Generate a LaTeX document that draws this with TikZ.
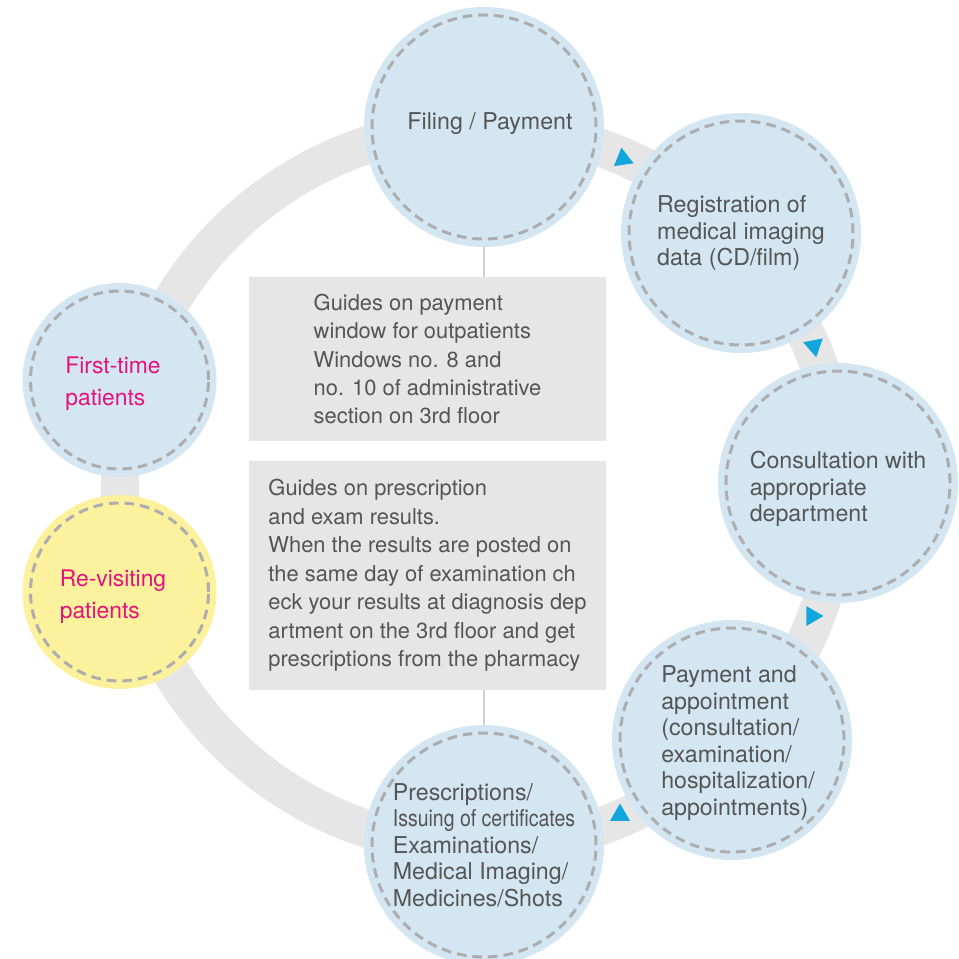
\documentclass[tikz,border=0pt]{standalone}
\usepackage{fontspec}
\setmainfont{TeX Gyre Heros}
\usetikzlibrary{shapes.geometric}

\definecolor{ringgray}{HTML}{E6E6E6}
\definecolor{boxgray}{HTML}{E6E6E6}
\definecolor{stemgray}{HTML}{D2D2D2}
\definecolor{paleblue}{HTML}{D3E6F1}
\definecolor{paleyellow}{HTML}{FCF29D}
\definecolor{dashgray}{HTML}{ADADAD}
\definecolor{txtgray}{HTML}{555555}
\definecolor{hotpink}{HTML}{E5127D}
\definecolor{tipblue}{HTML}{12A6DC}

\begin{document}
\begin{tikzpicture}[
  stage/.style={circle, fill=paleblue, minimum size=4.8cm, inner sep=0pt, align=left,
    text=txtgray, font=\fontsize{13.2}{15.1}\selectfont},
  entry/.style={stage, minimum size=3.88cm},
  caption/.style={align=left, inner sep=0pt, text=txtgray, font=\fontsize{13.2}{15.1}\selectfont},
  pinkcaption/.style={caption, text=hotpink, font=\fontsize{13}{18.2}\selectfont},
  rim/.style={draw=dashgray, line width=1.7pt, dash pattern=on 5.5pt off 3.4pt},
  guide/.style={rectangle, fill=boxgray, minimum width=7.14cm, inner sep=0pt, align=left,
    text=txtgray, font=\fontsize{12.45}{16.2}\selectfont},
  stem/.style={draw=stemgray, line width=1.1pt},
  tip/.style={regular polygon, regular polygon sides=3, fill=tipblue, minimum size=0.46cm, inner sep=0pt}
]
\useasboundingbox (0, 0) rectangle (19.16, -19.18);

\node[circle, draw=ringgray, line width=0.76cm, minimum size=14.4cm] (ring) at (9.6, -9.74) {};

\node[guide, minimum height=3.28cm] (g1) at (8.55, -7.18) {Guides on payment\\window for outpatients\\Windows no. 8 and\\no. 10 of administrative\\section on 3rd floor};
\node[guide, minimum height=4.58cm] (g2) at (8.55, -11.51) {Guides on prescription\\and exam results.\\When the results are posted on\\the same day of examination ch\\eck your results at diagnosis dep\\artment on the 3rd floor and get\\prescriptions from the pharmacy};

\node[stage, label={[caption, xshift=0.12cm, yshift=0.06cm]center:Filing / Payment}] (c1) at (9.68, -2.54) {};
\node[stage] (c2) at (14.82, -4.66) {Registration of\\medical imaging\\data (CD/film)};
\node[stage, label={[caption, yshift=-0.12cm]center:Consultation with\\appropriate\\department}] (c3) at (16.76, -9.66) {};
\node[stage, label={[caption, xshift=0.12cm, yshift=-0.06cm]center:Payment and\\appointment\\(consultation/\\examination/\\hospitalization/\\appointments)}] (c4) at (14.64, -14.8) {};
\node[stage] (c5) at (9.68, -16.9) {Prescriptions/\\\scalebox{0.84}[1]{Issuing of certificates}\\Examinations/\\Medical Imaging/\\Medicines/Shots};
\node[entry, label={[pinkcaption, xshift=-0.13cm, yshift=-0.08cm]center:First-time\\patients}] (e1) at (2.39, -7.6) {};
\node[entry, fill=paleyellow, label={[pinkcaption, xshift=-0.13cm, yshift=-0.1cm]center:Re-visiting\\patients}] (e2) at (2.39, -11.84) {};

\foreach \n in {c1, c2, c3, c4, c5}
  \draw[rim] (\n.center) circle (2.24);
\foreach \n in {e1, e2}
  \draw[rim] (\n.center) circle (1.78);

\draw[stem] (c1.south) -- (c1.south |- g1.north);
\draw[stem] (g2.south -| c5.north) -- (c5.north);

\node[tip, rotate=8] (t1) at (12.46, -3.18) {};
\node[tip, rotate=191] (t2) at (16.28, -6.92) {};
\node[tip, rotate=-90] (t3) at (16.24, -12.32) {};
\node[tip] (t4) at (12.4, -16.3) {};

\end{tikzpicture}
\end{document}
